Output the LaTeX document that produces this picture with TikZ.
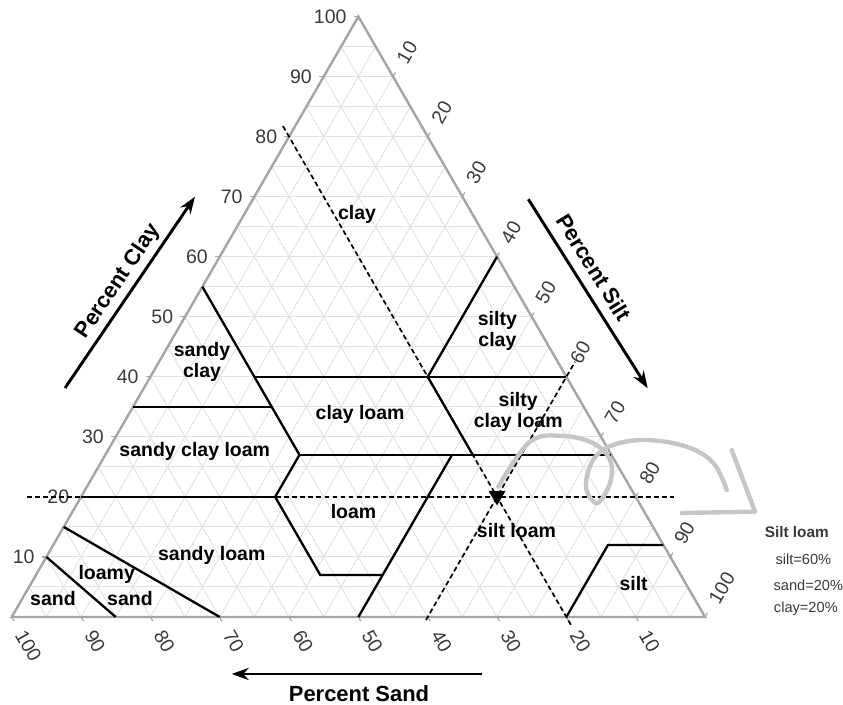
\documentclass[tikz,border=0pt]{standalone}
\usepackage{fontspec}
\setmainfont{Liberation Sans}
\usetikzlibrary{arrows.meta}
\definecolor{edgegray}{HTML}{A6A6A6}
\definecolor{gridgray}{HTML}{E2E2E2}
\definecolor{numgray}{HTML}{3A3A3A}
\definecolor{curlgray}{HTML}{C6C6C6}

\begin{document}
\begin{tikzpicture}[
  region/.style={font=\bfseries\fontsize{8}{8.7}\selectfont, align=center, inner sep=0pt},
  boundary/.style={black, line width=0.95pt},
  reading/.style={black, line width=0.7pt, dash pattern=on 2pt off 1.3pt},
  axisnum/.style={numgray, font=\fontsize{8}{9}\selectfont, inner sep=0pt},
  axistitle/.style={font=\bfseries\fontsize{9}{10}\selectfont, inner sep=0pt},
  axisarrow/.style={line width=1.2pt, -{Stealth[length=7pt,width=5pt]}},
  legend/.style={numgray, font=\fontsize{6}{7}\selectfont, inner sep=0pt}
]
\useasboundingbox (-0.169,-1.255) rectangle (11.99,8.899);

% triangle, x = percent silt, y = percent clay
\begin{scope}[x={(1mm,0mm)}, y={(0.5mm,0.866mm)}]
\foreach \p in {5,10,...,95}{
  \draw[gridgray, line width=0.4pt] (0,\p) -- (100-\p,\p);
  \draw[gridgray, line width=0.4pt] (\p,0) -- (\p,100-\p);
  \draw[gridgray, line width=0.4pt] (100-\p,0) -- (0,100-\p);
}
\draw[edgegray, line width=1pt] (0,0) -- (100,0) -- (0,100) -- cycle;

% ticks and numbers
\foreach \p in {10,20,...,100}{
  \draw[edgegray, line width=0.5pt] (0,\p) -- ++(-0.7,0);
  \node[axisnum, anchor=east] (clay\p) at (-1.65,\p) {\p};
  \draw[edgegray, line width=0.5pt] (\p,100-\p) -- ++(0,0.7);
  \node[axisnum, anchor=west, rotate=60] (silt\p) at (\p,102.4-\p) {\p};
  \draw[edgegray, line width=0.5pt] (100-\p,0) -- ++(0.7,-0.7);
  \node[axisnum, anchor=west, rotate=-60] (sand\p) at (102.4-\p,-2.4) {\p};
}

% class boundaries
\draw[boundary] (0,55) -- (28,27) -- (28,20) -- (41,7) -- (50,7);
\draw[boundary] (0,35) -- (20,35);
\draw[boundary] (15,40) -- (60,40);
\draw[boundary] (40,40) -- (40,60);
\draw[boundary] (40,40) -- (53,27);
\draw[boundary] (28,27) -- (73,27);
\draw[boundary] (0,20) -- (28,20);
\draw[boundary] (50,27) -- (50,0);
\draw[boundary] (80,0) -- (80,12) -- (88,12);
\draw[boundary] (0,15) -- (30,0);
\draw[boundary] (0,10) -- (15,0);

% reading lines
\coordinate (sample) at (60,20);
\draw[reading] (-7.8,20) -- (85.5,20);
\draw[reading] (81.3,-1.3) -- (-2,82);
\draw[reading] (60,-0.5) -- (60,42.5);
\fill (sample) ++(-3.5pt,2.5pt) -- ++(7pt,0) -- ++(-3.5pt,-6pt) -- cycle;

% class names
\node[region] (clay) at (16.3,67) {clay};
\node[region] (siltyclay) at (46.2,47.7) {silty\\clay};
\node[region] (sandyclay) at (6.2,42.5) {sandy\\clay};
\node[region] (clayloam) at (33.4,33.7) {clay loam};
\node[region] (siltyclayloam) at (56,34.1) {silty\\clay loam};
\node[region] (sandyclayloam) at (12.6,27.6) {sandy clay loam};
\node[region] (loam) at (40.5,17.6) {loam};
\node[region] (siltloam) at (65.6,14.4) {silt loam};
\node[region] (sandyloam) at (23.7,10.3) {sandy loam};
\node[region] (loamy) at (10.2,7) {loamy};
\node[region] (loamysand) at (15.5,3.1) {sand};
\node[region] (sand) at (4.4,3.1) {sand};
\node[region] (silt) at (86.9,5.6) {silt};
\end{scope}

% axis titles
\draw[axisarrow] (0.769,3.303) -- (2.644,6.062);
\node[axistitle, rotate=56] (claytitle) at (1.538,4.837) {Percent Clay};
\draw[axisarrow] (7.451,6.025) -- (9.173,3.299);
\node[axistitle, rotate=-58.5] (silttitle) at (8.399,5.041) {Percent Silt};
\draw[axisarrow] (6.779,-0.822) -- (3.173,-0.822);
\node[axistitle] (sandtitle) at (5.009,-1.100) {Percent Sand};

% hand drawn pointer to the legend
\draw[curlgray, line width=1.8pt, line cap=round] plot[smooth, tension=0.6] coordinates {
  (7.019,1.879) (7.476,2.529) (7.956,2.611) (8.389,2.505) (8.630,2.265)
  (8.630,1.933) (8.443,1.644) (8.283,1.875) (8.385,2.265) (8.673,2.481)
  (9.159,2.553) (9.736,2.456) (10.120,2.221) (10.313,1.832)};
\draw[curlgray, line width=1.8pt, line cap=round, line join=round]
  (10.385,2.409) -- (10.721,1.519) -- (9.664,1.500);

% legend
\node[legend, font=\bfseries\fontsize{6.3}{7}\selectfont] (legtitle) at (11.323,1.230) {Silt loam};
\node[legend] (legsilt) at (11.418,0.832) {silt=60\%};
\node[legend] (legsand) at (11.490,0.462) {sand=20\%};
\node[legend] (legclay) at (11.454,0.115) {clay=20\%};
\end{tikzpicture}
\end{document}
